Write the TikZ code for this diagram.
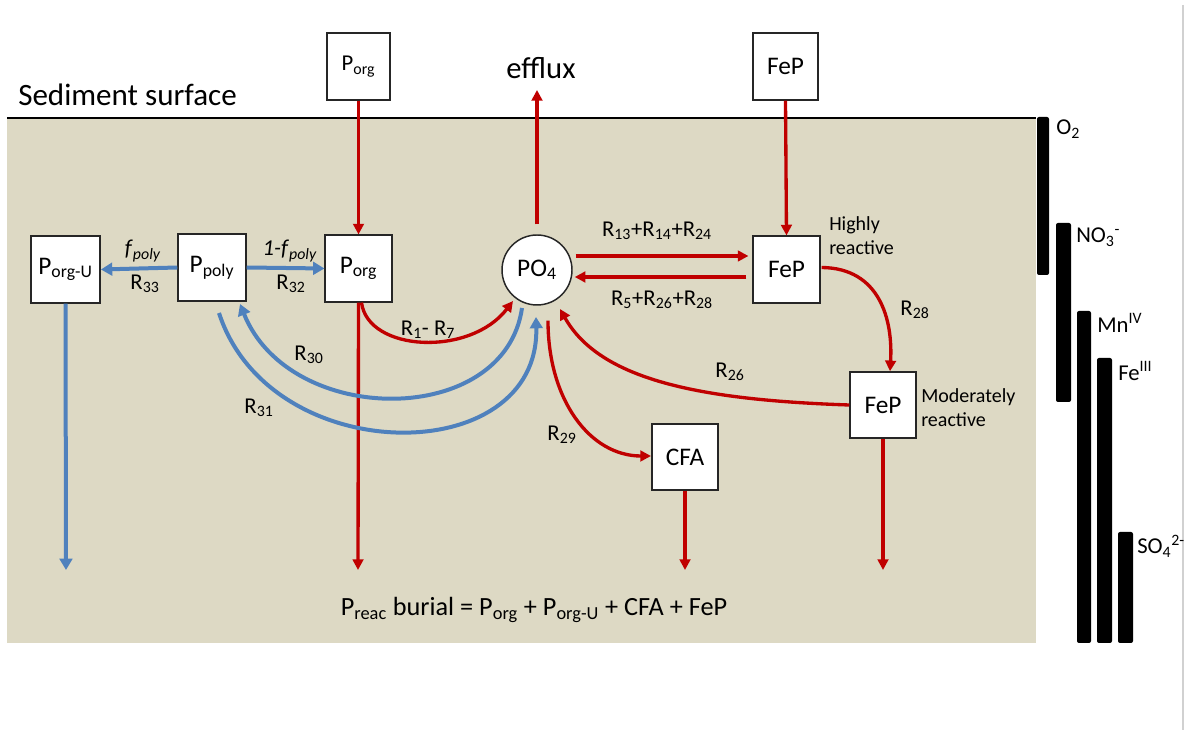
\documentclass[tikz,border=0pt]{standalone}
\usepackage{fontspec}
\setmainfont{Carlito}
\usetikzlibrary{arrows.meta,calc}
\definecolor{tanbg}{RGB}{221,217,196}
\definecolor{rred}{RGB}{192,0,0}
\definecolor{bblue}{RGB}{79,129,189}
\newcommand{\sbs}[1]{\textsubscript{#1}}
\newcommand{\sps}[1]{\textsuperscript{#1}}
\begin{document}
\begin{tikzpicture}[x=0.75pt,y=-0.75pt,
 box/.style={draw=black!85,line width=1.1pt,fill=white,minimum width=50pt,minimum height=50pt,inner sep=0pt,font=\fontsize{19}{22}\selectfont},
 redarr/.style={draw=rred,line width=2.5pt,-{Triangle[length=8pt,width=8pt]}},
 bluearr/.style={draw=bblue,line width=3pt,-{Triangle[length=8.5pt,width=9.5pt]}},
 lab/.style={font=\fontsize{17}{20}\selectfont,inner sep=0pt},
 small/.style={font=\fontsize{15}{18}\selectfont,inner sep=0pt,align=left,anchor=west},
 bar/.style={fill=black,rounded corners=1.5pt},
 barlab/.style={font=\fontsize{17}{20}\selectfont,anchor=west,inner sep=0pt}
]
\useasboundingbox (0,0) rectangle (1190,737);
\fill[white] (0,0) rectangle (1190,737);
\fill[tanbg] (7,118) rectangle (1036,643);
\draw[line width=2pt] (7,118) -- (1036,118);
\draw[black!18,line width=1pt] (1183,5) -- (1183,730);

% titles
\node[anchor=west,inner sep=0pt,font=\fontsize{23.3}{26}\selectfont] (sed) at (18,95) {Sediment surface};
\node[inner sep=0pt,font=\fontsize{23}{26}\selectfont] (efflux) at (541,68) {efflux};

% boxes
\node[box,minimum width=47pt,font=\fontsize{17}{20}\selectfont] (porgtop) at (358.5,66.5) {P\sbs{org}};
\node[box,minimum width=49pt] (fetop) at (785.5,66.5) {FeP};
\node[box] (porg) at (358.5,268.5) {P\sbs{org}};
\node[box,minimum width=51pt] (ppoly) at (212,267.5) {P\sbs{poly}};
\node[box,minimum width=52pt] (porgu) at (65.5,269.5) {P\sbs{org-U}};
\node[draw=black!85,line width=1.1pt,fill=white,circle,minimum size=52.5pt,inner sep=0pt,font=\fontsize{19}{22}\selectfont] (po4) at (537,270) {PO\sbs{4}};
\node[box] (feph) at (786.5,269.5) {FeP};
\node[box,minimum width=49.5pt,minimum height=49.5pt] (fepm) at (883,405) {FeP};
\node[box,minimum width=49.5pt,minimum height=49.5pt] (cfa) at (685,457) {CFA};

\node[small] (hr) at (829,236) {Highly\\reactive};
\node[small] (mr) at (921,408) {Moderately\\reactive};

% coordinates
\coordinate (efx) at (537,90);
\coordinate (b1) at (358,570);
\coordinate (b2) at (685,570);
\coordinate (b3) at (883,570);
\coordinate (b4) at (66,570);

% red arrows
\draw[redarr] (porgtop.south) -- (porg.north);
\draw[redarr] (fetop.south) -- (feph.north);
\draw[redarr] ($(po4.north)+(0,-10)$) -- (efx);
\draw[redarr] ($(po4.east)+(3,-14)$) -- ($(feph.west)+(-4,-13.5)$);
\draw[redarr] ($(feph.west)+(-6,7.5)$) -- ($(po4.east)+(2,7)$);
\draw[redarr] (porg.south) -- (b1);
\draw[redarr] (cfa.south) -- (b2);
\draw[redarr] (fepm.south) -- (b3);
\draw[redarr] ($(porg.south)+(3,0)$) .. controls (368,352) and (470,357) .. (513,301);
\draw[redarr] ($(po4.south)+(11,15)$) .. controls (548,400) and (590,456) .. (651,456);
\draw[redarr] (fepm.west) .. controls (700,400) and (600,380) .. (560,309);
\draw[redarr] ($(feph.east)+(1,-2)$) .. controls (880,268) and (893,320) .. ($(fepm.north)+(7,0)$);

% blue arrows
\draw[bluearr] (ppoly.west) -- (porgu.east);
\draw[bluearr] (ppoly.east) -- (porg.west);
\draw[bluearr] (porgu.south) -- (b4);
\draw[bluearr] (522,308) .. controls (505,428) and (290,428) .. (240,304);
\draw[bluearr] (219,313) .. controls (270,470) and (540,470) .. (536,317);

% labels
\node[lab] (lfp) at (143,251) {\textit{f}\sbs{\textit{poly}}};
\node[lab] (l33) at (145,284) {R\sbs{33}};
\node[lab] (l1fp) at (290,251) {\textit{1-f}\sbs{\textit{poly}}};
\node[lab] (l32) at (291,284) {R\sbs{32}};
\node[lab] (l30) at (309,355) {R\sbs{30}};
\node[lab] (l31) at (259,408) {R\sbs{31}};
\node[lab] (l17) at (428,330) {R\sbs{1}- R\sbs{7}};
\node[lab] (l13) at (657,231) {R\sbs{13}+R\sbs{14}+R\sbs{24}};
\node[lab] (l5) at (662,300) {R\sbs{5}+R\sbs{26}+R\sbs{28}};
\node[lab] (l26) at (730,372) {R\sbs{26}};
\node[lab] (l29) at (562,435) {R\sbs{29}};
\node[lab] (l28) at (915,310) {R\sbs{28}};

\node[inner sep=0pt,font=\fontsize{19.7}{24}\selectfont] (burial) at (534,610) {P\sbs{reac} burial = P\sbs{org} + P\sbs{org-U} + CFA + FeP};

% redox bars
\fill[bar] (1037,117) rectangle (1049,275);
\fill[bar] (1056,223) rectangle (1071,402);
\fill[bar] (1077,311) rectangle (1091,643);
\fill[bar] (1097,358) rectangle (1112,643);
\fill[bar] (1118,532) rectangle (1133,643);
\node[barlab] (lo2) at (1056,129) {O\sbs{2}};
\node[barlab] (lno3) at (1076,237) {NO\sbs{3}\sps{-}};
\node[barlab] (lmn) at (1097,323) {Mn\sps{IV}};
\node[barlab] (lfe) at (1118,371) {Fe\sps{III}};
\node[barlab] (lso4) at (1137,546) {SO\sbs{4}\sps{2-}};
\end{tikzpicture}
\end{document}
